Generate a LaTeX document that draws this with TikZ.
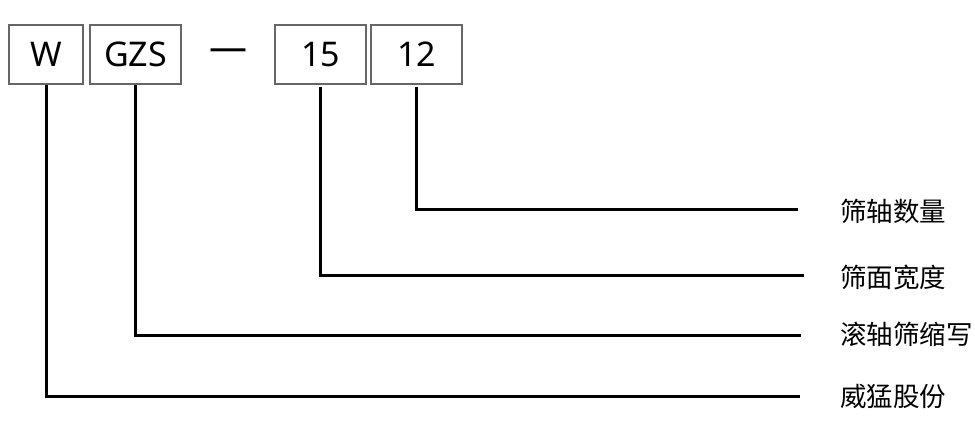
\documentclass[tikz,border=0pt]{standalone}
\usepackage{fontspec}
\setmainfont{Noto Sans}
\newfontfamily\cjkfont{Noto Sans CJK SC}
\begin{document}
\begin{tikzpicture}[x=1pt,y=-1pt,
  codebox/.style={draw=black!60,line width=1.3pt,inner sep=0pt,minimum height=59pt,font=\fontsize{34}{40}\selectfont},
  lead/.style={line width=3pt,black},
  lbl/.style={anchor=west,inner sep=0pt,font=\cjkfont\fontsize{26.5}{31}\selectfont}]
\useasboundingbox (0,0) rectangle (975,425);
\node[codebox,minimum width=74pt] (W) at (46,54.5) {W};
\node[codebox,minimum width=91pt] (G) at (135.5,54.5) {GZS};
\node[inner sep=0pt,font=\fontsize{38}{40}\selectfont] (D) at (228.5,55) {—};
\node[codebox,minimum width=91pt] (A) at (320.5,54.5) {15};
\node[codebox,minimum width=91pt] (B) at (416.5,54.5) {12};
\coordinate (eB) at (798,209);
\coordinate (eA) at (804,275);
\coordinate (eG) at (801,335);
\coordinate (eW) at (800,396);
\node[lbl] (lB) at (840,211) {筛轴数量};
\node[lbl] (lA) at (840,277) {筛面宽度};
\node[lbl] (lG) at (840,334) {滚轴筛缩写};
\node[lbl] (lW) at (840,396) {威猛股份};
\draw[lead] ([yshift=-2pt]B.south) |- (eB);
\draw[lead] ([yshift=-2pt]A.south) |- (eA);
\draw[lead] (G.south) |- (eG);
\draw[lead] (W.south) |- (eW);
\end{tikzpicture}
\end{document}
